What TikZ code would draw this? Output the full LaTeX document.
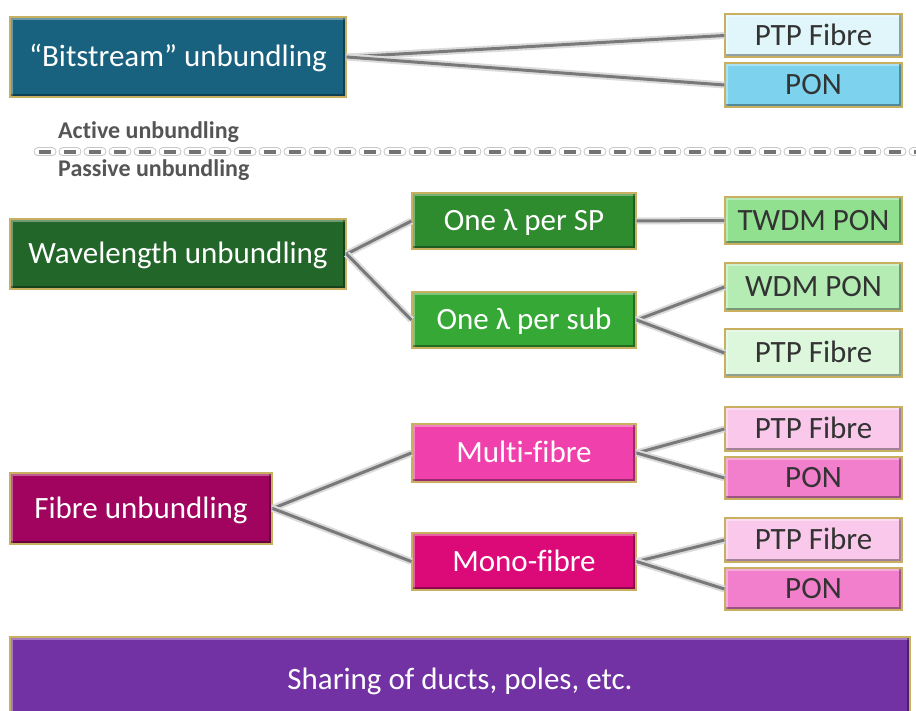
\documentclass[tikz,border=0pt]{standalone}
\usepackage{fontspec}
\setmainfont{Carlito}[Ligatures=NoCommon]
\definecolor{bitC}{HTML}{19627F}
\definecolor{ptpA}{HTML}{E0F6FA}
\definecolor{ponA}{HTML}{7DD3EE}
\definecolor{waveC}{HTML}{22662A}
\definecolor{spC}{HTML}{2E8B2E}
\definecolor{subC}{HTML}{36A836}
\definecolor{twdmC}{HTML}{90E090}
\definecolor{wdmC}{HTML}{B4ECB4}
\definecolor{ptpG}{HTML}{DDF7DD}
\definecolor{fibC}{HTML}{A0045E}
\definecolor{multiC}{HTML}{F040AC}
\definecolor{monoC}{HTML}{DC0A78}
\definecolor{ptpP}{HTML}{F9C8EA}
\definecolor{ponP}{HTML}{F27FCB}
\definecolor{shareC}{HTML}{7232A3}
\definecolor{goldC}{HTML}{C8B060}
\definecolor{darkT}{HTML}{333333}
\definecolor{labT}{HTML}{555555}
\begin{document}
\begin{tikzpicture}[x=1pt,y=-1pt,
  boxbase/.style={draw=goldC, line width=1.2pt, inner sep=0pt, anchor=center,
    font=\fontsize{31}{34}\selectfont, text height=19.8pt, text depth=0pt,
    path picture={
      \draw[white,opacity=.35,line width=6pt] (path picture bounding box.south west) -- (path picture bounding box.north west) -- (path picture bounding box.north east);
      \draw[black,opacity=.35,line width=6pt] (path picture bounding box.north east) -- (path picture bounding box.south east) -- (path picture bounding box.south west);
    }},
  darkbox/.style={boxbase, fill=#1, text=white},
  lightbox/.style={boxbase, fill=#1, text=darkT},
  leafbox/.style={lightbox=#1, minimum width=177pt},
  midbox/.style={darkbox=#1, minimum width=224pt},
  conn/.style={draw=gray!95!black, line width=3pt,
    preaction={draw=gray!28, line width=7pt}},
  sidelab/.style={anchor=west, text=labT, font=\bfseries\fontsize{24}{27}\selectfont, inner sep=0pt}
]
\useasboundingbox (0,0) rectangle (916,711);

% ---- Bitstream
\node[darkbox=bitC, minimum width=336pt, minimum height=80pt] (bit) at (178,57) {“Bitstream” unbundling};
\node[leafbox=ptpA, minimum height=43pt] (ptp1) at (813.5,35.5) {PTP Fibre};
\node[leafbox=ponA, minimum height=44pt] (pon1) at (813.5,85) {PON};

% ---- divider
\node[sidelab] (act) at (58,132) {Active unbundling};
\node[sidelab] (pas) at (58,170) {Passive unbundling};
\coordinate (divL) at (38,152);
\coordinate (divR) at (930,152);
\draw[line width=9pt, color=gray!45, line cap=round, dash pattern=on 14pt off 11pt] (divL) -- (divR);
\draw[line width=7pt, color=white, line cap=round, dash pattern=on 14pt off 11pt] (divL) -- (divR);
\draw[line width=3.2pt, color=gray!90!black, dash pattern=on 12pt off 13pt] ([xshift=1pt]divL) -- (divR);

% ---- Wavelength
\node[darkbox=waveC, minimum width=336pt, minimum height=70pt] (wave) at (178,254) {Wavelength unbundling};
\node[midbox=spC, minimum height=56pt] (sp) at (524,221) {One λ per SP};
\node[midbox=subC, minimum height=56pt] (sub) at (524,320) {One λ per sub};
\node[leafbox=twdmC, minimum height=47pt] (twdm) at (813.5,220.5) {TWDM PON};
\node[leafbox=wdmC, minimum height=48pt] (wdm) at (813.5,287) {WDM PON};
\node[leafbox=ptpG, minimum height=48pt] (ptpg) at (813.5,353) {PTP Fibre};

% ---- Fibre
\node[darkbox=fibC, minimum width=262pt, minimum height=71pt] (fib) at (141,508.5) {Fibre unbundling};
\node[midbox=multiC, minimum height=58pt] (multi) at (524,453) {Multi-fibre};
\node[midbox=monoC, minimum height=57pt] (mono) at (524,561.5) {Mono-fibre};
\node[leafbox=ptpP, minimum height=44pt] (ptpp1) at (813.5,429) {PTP Fibre};
\node[leafbox=ponP, minimum height=42pt] (ponp1) at (813.5,478) {PON};
\node[leafbox=ptpP, minimum height=44pt] (ptpp2) at (813.5,540) {PTP Fibre};
\node[leafbox=ponP, minimum height=42pt] (ponp2) at (813.5,589) {PON};

% ---- Sharing
\node[darkbox=shareC, minimum width=900pt, minimum height=86pt] (share) at (460,680) {Sharing of ducts, poles, etc.};

% ---- connectors
\path[conn] (bit.east) -- (ptp1.west);
\path[conn] (bit.east) -- (pon1.west);
\path[conn] (wave.east) -- (sp.west);
\path[conn] (wave.east) -- (sub.west);
\path[conn] (sp.east) -- (twdm.west);
\path[conn] (sub.east) -- (wdm.west);
\path[conn] (sub.east) -- (ptpg.west);
\path[conn] (fib.east) -- (multi.west);
\path[conn] (fib.east) -- (mono.west);
\path[conn] (multi.east) -- (ptpp1.west);
\path[conn] (multi.east) -- (ponp1.west);
\path[conn] (mono.east) -- (ptpp2.west);
\path[conn] (mono.east) -- (ponp2.west);
\end{tikzpicture}
\end{document}
